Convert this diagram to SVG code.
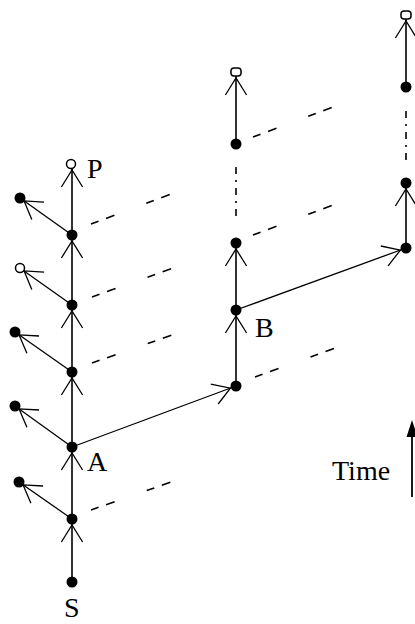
<svg xmlns="http://www.w3.org/2000/svg" width="415" height="624" viewBox="0 0 415 624">
<style>
.ln{stroke:#000;stroke-width:1.6;fill:none}
.th{stroke:#000;stroke-width:1.3;fill:none}
.ah{stroke:#000;stroke-width:1.3;fill:none}
.cone{stroke:#000;stroke-width:1.6;fill:none;stroke-dasharray:8 8 9 34 8 8 9 100}
.dd{stroke:#000;stroke-width:1.6;fill:none;stroke-dasharray:7 6 2 6}
.n{fill:#000}
.o{fill:#fff;stroke:#000;stroke-width:1.5}
.lb{font-family:"Liberation Serif","Times New Roman",serif;font-size:28px;fill:#000}
</style>
<rect width="415" height="624" fill="#fff"/>
<g id="connectors">
  <line class="ln" x1="72" y1="582" x2="72" y2="164"/>
  <path class="ah" d="M61.4,542 L72,525 L82.6,542"/>
  <path class="ah" d="M61.4,470 L72,453 L82.6,470"/>
  <path class="ah" d="M61.4,395 L72,378 L82.6,395"/>
  <path class="ah" d="M61.4,328 L72,311 L82.6,328"/>
  <path class="ah" d="M61.4,258 L72,241 L82.6,258"/>
  <path class="ah" d="M61.4,187 L72,170 L82.6,187"/>
  <line class="th" x1="72" y1="235" x2="20" y2="198"/>
  <path class="ah" d="M31.8,219.4 L24.1,200.9 L44.1,202.1"/>
  <line class="th" x1="72" y1="305" x2="24" y2="271"/>
  <path class="ah" d="M31.8,289.4 L24.1,270.9 L44.1,272.1"/>
  <line class="th" x1="72" y1="372" x2="15" y2="332"/>
  <path class="ah" d="M26.9,353.3 L19.1,334.9 L39.1,336"/>
  <line class="th" x1="72" y1="447" x2="15" y2="406"/>
  <path class="ah" d="M26.9,427.3 L19.1,408.9 L39.1,410"/>
  <line class="th" x1="72" y1="519" x2="19" y2="482"/>
  <path class="ah" d="M30.9,503.3 L23.1,484.9 L43.1,486"/>
  <line class="th" x1="72" y1="447" x2="236" y2="386"/>
  <path class="ah" d="M210.8,384.1 L230.4,388.1 L218.2,404"/>
  <line class="th" x1="236" y1="310" x2="406" y2="248"/>
  <path class="ah" d="M380.8,246 L400.4,250.1 L388.1,265.9"/>
  <line class="ln" x1="236" y1="385" x2="236" y2="243"/>
  <path class="ah" d="M225.4,333 L236,316 L246.6,333"/>
  <path class="ah" d="M225.4,266 L236,249 L246.6,266"/>
  <line class="dd" x1="236" y1="167" x2="236" y2="218"/>
  <line class="ln" x1="236" y1="144" x2="236" y2="72"/>
  <path class="ah" d="M225.4,95 L236,78 L246.6,95"/>
  <line class="ln" x1="406" y1="248" x2="406" y2="183"/>
  <path class="ah" d="M395.4,206 L406,189 L416.6,206"/>
  <line class="dd" x1="406" y1="111" x2="406" y2="162"/>
  <line class="ln" x1="406" y1="87" x2="406" y2="15"/>
  <path class="ah" d="M395.4,38 L406,21 L416.6,38"/>
  <line class="cone" x1="91" y1="224" x2="174" y2="193"/>
  <line class="cone" x1="92" y1="297" x2="176" y2="267"/>
  <line class="cone" x1="92" y1="363" x2="175" y2="334"/>
  <line class="cone" x1="91" y1="510" x2="174" y2="481"/>
  <line class="cone" x1="253" y1="137" x2="336" y2="106"/>
  <line class="cone" x1="253" y1="235" x2="336" y2="204"/>
  <line class="cone" x1="255" y1="377" x2="338" y2="347"/>
  <line x1="412" y1="497" x2="412" y2="432" stroke="#000" stroke-width="1.8"/>
  <polygon points="412,420 406.5,437 417.5,437" fill="#000"/>
</g>
<g id="S"><circle class="n" cx="72" cy="582" r="5.5"/><text class="lb" x="64" y="617">S</text></g>
<g id="L1"><circle class="n" cx="72" cy="519" r="5.5"/></g>
<g id="A"><circle class="n" cx="72" cy="447" r="5.5"/><text class="lb" x="87" y="471">A</text></g>
<g id="L3"><circle class="n" cx="72" cy="372" r="5.5"/></g>
<g id="L4"><circle class="n" cx="72" cy="305" r="5.5"/></g>
<g id="L5"><circle class="n" cx="72" cy="235" r="5.5"/></g>
<g id="P"><circle class="o" cx="71" cy="164" r="4.5"/><text class="lb" x="87" y="178">P</text></g>
<g id="s1"><circle class="n" cx="20" cy="198" r="5.5"/></g>
<g id="s2"><circle class="o" cx="20" cy="268" r="4.5"/></g>
<g id="s3"><circle class="n" cx="15" cy="332" r="5.5"/></g>
<g id="s4"><circle class="n" cx="15" cy="406" r="5.5"/></g>
<g id="s5"><circle class="n" cx="19" cy="482" r="5.5"/></g>
<g id="M1"><circle class="n" cx="236" cy="386" r="5.5"/></g>
<g id="B"><circle class="n" cx="236" cy="310" r="5.5"/><text class="lb" x="255" y="337">B</text></g>
<g id="M3"><circle class="n" cx="236" cy="243" r="5.5"/></g>
<g id="M4"><circle class="n" cx="236" cy="144" r="5.5"/></g>
<g id="M5"><rect class="o" x="231" y="68" width="10" height="8" rx="3"/></g>
<g id="R1"><circle class="n" cx="406" cy="248" r="5.5"/></g>
<g id="R2"><circle class="n" cx="406" cy="183" r="5.5"/></g>
<g id="R3"><circle class="n" cx="406" cy="87" r="5.5"/></g>
<g id="R4"><rect class="o" x="401" y="11" width="10" height="8" rx="3"/></g>
<g id="time"><text class="lb" x="332" y="480">Time</text></g>
</svg>
